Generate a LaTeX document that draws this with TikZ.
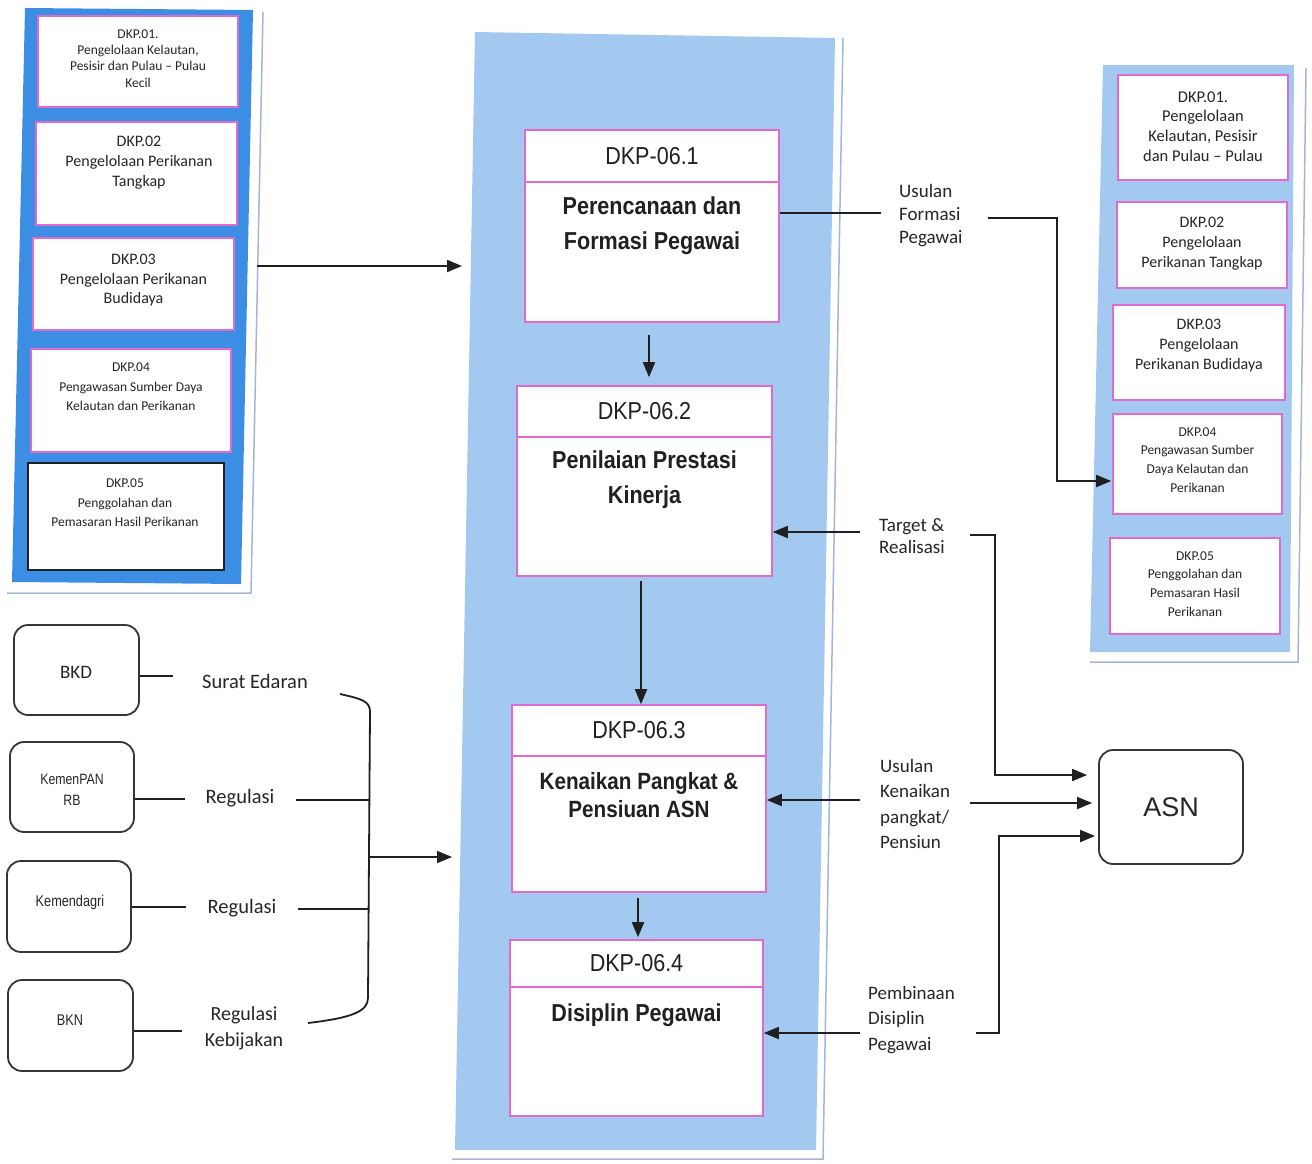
\documentclass[tikz,border=0pt]{standalone}
\usepackage{fontspec}
\setmainfont{Carlito}
\newfontfamily\arialf{Liberation Sans}
\newfontfamily\arialn[FakeStretch=0.88]{Liberation Sans}
\newfontfamily\arialc[FakeStretch=0.82]{Liberation Sans}
\usetikzlibrary{arrows.meta}
\definecolor{deepblue}{HTML}{3C8EE4}
\definecolor{paleblue}{HTML}{A3C9F0}
\definecolor{rimline}{HTML}{A3B6DA}
\definecolor{pinkline}{HTML}{E26ACD}
\definecolor{ink}{HTML}{202020}
\definecolor{txt}{HTML}{262626}
\newcommand\fs[2]{\fontsize{#1}{#2}\selectfont}
\tikzset{
  pbox/.style={draw=pinkline, line width=1.6pt, fill=white, inner sep=0pt},
  blackbox/.style={draw=ink, line width=2.4pt, fill=white, inner sep=0pt},
  orgbox/.style={draw=ink!90, line width=1.8pt, rounded corners=14pt, fill=white, inner sep=0pt},
  lbl/.style={text=txt, inner sep=0pt, align=center},
  lbll/.style={text=txt, inner sep=0pt, align=left, anchor=west},
  head/.style={font=\arialn\fs{24.5}{28}, text=ink},
  ttl/.style={text=ink, inner sep=0pt, align=center, font=\arialn\bfseries\fs{24.5}{35}},
  ln/.style={draw=ink, line width=1.8pt},
  arr/.style={draw=ink, line width=1.8pt, -{Triangle[length=15pt,width=12pt]}},
}
\begin{document}
\begin{tikzpicture}[x=1pt,y=-1pt]
\useasboundingbox (0,0) rectangle (1312,1163);
\fill[white] (0,0) rectangle (1312,1163);

% ---------- panels ----------
\fill[deepblue] (25,8) -- (253,10) -- (241,584) -- (12,582) -- cycle;
\draw[rimline, line width=1.5pt] (263,12) -- (251,593) -- (7,593);
\fill[paleblue] (475,32) -- (835,38) -- (816,1150) -- (455,1150) -- cycle;
\draw[rimline, line width=1.5pt] (843,38) -- (823,1159) -- (452,1159);
\fill[paleblue] (1103,65) -- (1294,65) -- (1290,652) -- (1090,652) -- cycle;
\draw[rimline, line width=1.5pt] (1306,68) -- (1298,662) -- (1090,662);

% ---------- left column of units ----------
\node[pbox, minimum width=200, minimum height=91] (l1) at (138,61.5) {};
\node[lbl, font=\fs{13.5}{16.3}] (l1t) at (138,58.5) {DKP.01.\\Pengelolaan Kelautan,\\Pesisir dan Pulau -- Pulau\\Kecil};
\node[pbox, minimum width=201, minimum height=103] (l2) at (136.5,173.5) {};
\node[lbl, font=\fs{16}{20}] (l2t) at (139,163) {DKP.02\\Pengelolaan Perikanan\\Tangkap};
\node[pbox, minimum width=201, minimum height=92] (l3) at (133.5,284) {};
\node[lbl, font=\fs{16}{19.5}] (l3t) at (133.5,280.5) {DKP.03\\Pengelolaan Perikanan\\Budidaya};
\node[pbox, minimum width=200, minimum height=103] (l4) at (131,400.5) {};
\node[lbl, font=\fs{13.5}{19.5}] (l4t) at (131,387) {DKP.04\\Pengawasan Sumber Daya\\Kelautan dan Perikanan};
\node[blackbox, minimum width=196, minimum height=107] (l5) at (126,516.5) {};
\node[lbl, font=\fs{13.5}{19.5}] (l5t) at (125,503) {DKP.05\\Penggolahan dan\\Pemasaran Hasil Perikanan};

% ---------- central process boxes ----------
\node[pbox, head, minimum width=254, minimum height=52] (h1) at (652,156) {DKP-06.1};
\node[pbox, minimum width=254, minimum height=140] (b1) at (652,252) {};
\node[ttl] (t1) at (652,226) {Perencanaan dan\\Formasi Pegawai};

\node[pbox, head, minimum width=255, minimum height=51] (h2) at (644.5,411.5) {DKP-06.2};
\node[pbox, minimum width=255, minimum height=139] (b2) at (644.5,506.5) {};
\node[ttl] (t2) at (644.5,480) {Penilaian Prestasi\\Kinerja};

\node[pbox, head, minimum width=254, minimum height=51] (h3) at (639,730.5) {DKP-06.3};
\node[pbox, minimum width=254, minimum height=136] (b3) at (639,824) {};
\node[ttl, font=\arialn\bfseries\fs{23.5}{28}] (t3) at (639,795) {Kenaikan Pangkat \&\\Pensiuan ASN};

\node[pbox, head, minimum width=253, minimum height=47] (h4) at (636.5,963.5) {DKP-06.4};
\node[pbox, minimum width=253, minimum height=129] (b4) at (636.5,1051.5) {};
\node[ttl] (t4) at (636.5,1015) {Disiplin Pegawai};

% ---------- right column of units ----------
\node[pbox, minimum width=170, minimum height=105] (r1) at (1203,127.5) {};
\node[lbl, font=\fs{16.5}{19.7}] (r1t) at (1203,126.5) {DKP.01.\\Pengelolaan\\Kelautan, Pesisir\\dan Pulau -- Pulau};
\node[pbox, minimum width=170, minimum height=86] (r2) at (1202,245) {};
\node[lbl, font=\fs{16}{19.7}] (r2t) at (1202,243.5) {DKP.02\\Pengelolaan\\Perikanan Tangkap};
\node[pbox, minimum width=172, minimum height=95] (r3) at (1199,352.5) {};
\node[lbl, font=\fs{16}{19.7}] (r3t) at (1199,345.5) {DKP.03\\Pengelolaan\\Perikanan Budidaya};
\node[pbox, minimum width=169, minimum height=100] (r4) at (1197.5,464) {};
\node[lbl, font=\fs{13.5}{18.7}] (r4t) at (1197.5,460) {DKP.04\\Pengawasan Sumber\\Daya Kelautan dan\\Perikanan};
\node[pbox, minimum width=170, minimum height=96] (r5) at (1195,586) {};
\node[lbl, font=\fs{13.5}{18.7}] (r5t) at (1195,584) {DKP.05\\Penggolahan dan\\Pemasaran Hasil\\Perikanan};

% ---------- outside bodies ----------
\node[orgbox, minimum width=125, minimum height=90] (o1) at (76.5,670) {};
\node[lbl, font=\fs{19}{22}] (o1t) at (76,672) {BKD};
\node[orgbox, minimum width=124, minimum height=90] (o2) at (72,787) {};
\node[lbl, font=\arialc\fs{15}{21}] (o2t) at (72,790) {KemenPAN\\RB};
\node[orgbox, minimum width=124, minimum height=91] (o3) at (69,906.5) {};
\node[lbl, font=\arialc\fs{15.5}{21}] (o3t) at (70,902) {Kemendagri};
\node[orgbox, minimum width=125, minimum height=91] (o4) at (70.5,1025.5) {};
\node[lbl, font=\arialc\fs{15.5}{21}] (o4t) at (70,1020) {BKN};
\node[orgbox, minimum width=144, minimum height=114, font=\arialf\fs{27}{30}, text=txt] (asn) at (1171,807) {ASN};

% ---------- flow labels ----------
\node[lbl, font=\fs{20.5}{25}] (se) at (255,681) {Surat Edaran};
\node[lbl, font=\fs{20.5}{25}] (rg1) at (240,798) {Regulasi};
\node[lbl, font=\fs{20.5}{25}] (rg2) at (242,908) {Regulasi};
\node[lbl, font=\fs{20}{26}] (rk) at (244,1028) {Regulasi\\Kebijakan};
\node[lbll, font=\fs{19}{23}] (uf) at (899,216) {Usulan\\Formasi\\Pegawai};
\node[lbll, font=\fs{19}{22.5}] (tr) at (879,536) {Target \&\\Realisasi};
\node[lbll, font=\fs{19}{25.5}] (uk) at (880,804) {Usulan\\Kenaikan\\pangkat/\\Pensiun};
\node[lbll, font=\fs{19}{25.5}] (pd) at (868,1020) {Pembinaan\\Disiplin\\Pegawai};

% ---------- connector ends ----------
\coordinate (lpout) at (257,266);
\coordinate (cpin) at (462,266);
\coordinate (ufo) at (988,218);
\coordinate (tro) at (860,532);
\coordinate (tre) at (970,535);
\coordinate (uko) at (860,800);
\coordinate (uke) at (970,803);
\coordinate (pdo) at (860,1033);
\coordinate (pde) at (976,1033);
\coordinate (rg1e) at (296,800);
\coordinate (rg2e) at (298,909);
\coordinate (brin) at (370,857);
\coordinate (cpin2) at (452,857);

% units feed the planning box
\draw[arr] (lpout) -- (cpin);

% process chain
\draw[arr] ([xshift=-3pt,yshift=-12pt]b1.south) -- ([xshift=4.5pt,yshift=8pt]h2.north);
\draw[arr] ([xshift=-3.5pt,yshift=-4pt]b2.south) -- ([xshift=2pt]h3.north);
\draw[arr] ([xshift=-1pt,yshift=-5pt]b3.south) -- ([xshift=1.5pt,yshift=2pt]h4.north);

% formation proposal to the units
\draw[ln] ([yshift=39pt]b1.east) -- ++(101,0);
\draw[arr] (ufo) -| ([xshift=-55pt]r4.west |- 0,481) -- ([xshift=-1pt]r4.west |- 0,481);

% target and realisation
\draw[arr] (tro) -- (b2.east |- tro);
\draw[arr] (tre) -| ([xshift=-103pt,yshift=32pt]asn.west) -- ([xshift=-11pt,yshift=32pt]asn.west);

% promotion and pension
\draw[arr] (uko) -- (b3.east |- uko);
\draw[arr] (uke) -- ([xshift=-6pt,yshift=4pt]asn.west);

% discipline
\draw[arr] (pdo) -- (b4.east |- pdo);
\draw[arr] (pde) -| ([xshift=-99pt,yshift=-29pt]asn.west) -- ([xshift=-3pt,yshift=-29pt]asn.west);

% regulators
\draw[ln] ([yshift=-6pt]o1.east) -- ++(33,0);
\draw[ln] ([yshift=-12pt]o2.east) -- ++(50,0);
\draw[ln] ([yshift=-0.5pt]o3.east) -- ++(54,0);
\draw[ln] ([yshift=-5.5pt]o4.east) -- ++(48,0);
\draw[ln] (rg1e) -- ++(74,0);
\draw[ln] (rg2e) -- ++(70,0);
\draw[ln] (340,694) .. controls (362,699) and (370,701) .. (370,712)
  -- (368,998) .. controls (368,1012) and (350,1018) .. (308,1023);
\draw[arr] (brin) -- (cpin2);
\end{tikzpicture}
\end{document}
